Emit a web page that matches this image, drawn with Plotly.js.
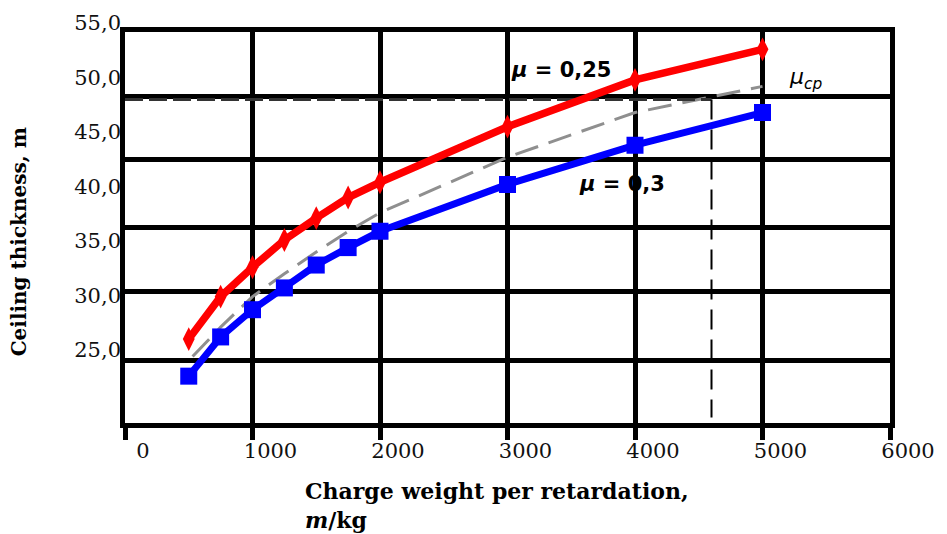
<!DOCTYPE html>
<html>
<head>
<meta charset="utf-8">
<script src="https://cdn.plot.ly/plotly-3.0.1.min.js"></script>
<style>html,body{margin:0;padding:0;background:#fff;}#chart{width:947px;height:534px;}</style>
</head>
<body>
<div id="chart"></div>
<script>
// ---- data ----
var chargeWeight = [500, 750, 1000, 1250, 1500, 1750, 2000, 3000, 4000, 5000];
var thicknessMu025 = [25.7, 29.6, 32.3, 34.8, 36.8, 38.7, 40.1, 45.2, 49.5, 52.3];
var thicknessMu03  = [22.3, 25.9, 28.4, 30.4, 32.5, 34.1, 35.6, 39.9, 43.5, 46.5];
var chargeWeightMuCp = [530, 750, 1000, 1250, 1500, 1750, 2000, 3000, 4000, 5000];
var thicknessMuCp    = [24.1, 26.8, 29.6, 31.7, 33.7, 35.6, 37.3, 42.4, 46.5, 48.9];
var refLevelX = [0, 4600];
var refLevelY = [47.7, 47.7];
var refDropX = [4600, 4600];
var refDropY = [47.7, 18.5];
var yTickVals = [25, 30, 35, 40, 45, 50, 55];
var yTickText = ['25,0', '30,0', '35,0', '40,0', '45,0', '50,0', '55,0'];
var xTickVals = [0, 1000, 2000, 3000, 4000, 5000, 6000];
var yGridVals = [23.73, 30.03, 35.95, 42.23, 47.96];

var serif = 'DejaVu Serif';
var sans = 'DejaVu Sans';

var traces = [
  // carrier for the tick-label axis (no marks)
  {x: [null], y: [null], xaxis: 'x2', yaxis: 'y2', mode: 'markers', type: 'scatter',
   marker: {opacity: 0}, hoverinfo: 'skip'},
  {x: chargeWeightMuCp, y: thicknessMuCp, mode: 'lines', type: 'scatter',
   line: {color: '#8f8f8f', width: 3, dash: '24px,11px'}},
  {x: refLevelX, y: refLevelY, mode: 'lines', type: 'scatter',
   line: {color: '#333333', width: 3, dash: '18px,6px'}},
  {x: refDropX, y: refDropY, mode: 'lines', type: 'scatter',
   line: {color: '#000000', width: 2, dash: '20px,10px'}},
  {x: chargeWeight, y: thicknessMu03, mode: 'lines+markers', type: 'scatter',
   line: {color: '#0000ff', width: 7}, marker: {symbol: 'square', size: 17, color: '#0000ff'}},
  {x: chargeWeight, y: thicknessMu025, mode: 'lines+markers', type: 'scatter',
   line: {color: '#ff0000', width: 7.5}, marker: {symbol: 'diamond-tall', size: 17, color: '#ff0000'}}
];

var layout = {
  width: 947, height: 534,
  margin: {l: 124.5, r: 56.5, t: 10, b: 110.5, pad: 0},
  paper_bgcolor: '#ffffff',
  plot_bgcolor: 'rgba(0,0,0,0)',
  showlegend: false,
  hovermode: false,
  xaxis: {
    domain: [0, 1], anchor: 'y', range: [0, 6000],
    tickvals: xTickVals,
    showgrid: true, gridcolor: '#000000', gridwidth: 5,
    showline: true, linecolor: '#000000', linewidth: 5, mirror: true,
    ticks: 'outside', ticklen: 12, tickwidth: 5, tickcolor: '#000000',
    ticklabelshift: 18, ticklabelstandoff: -7,
    tickfont: {family: serif, size: 21, color: '#111111'},
    zeroline: false
  },
  yaxis: {
    domain: [0, 0.9456], anchor: 'x', range: [18.0, 53.85],
    tickvals: yGridVals, showticklabels: false, ticks: '',
    showgrid: true, gridcolor: '#000000', gridwidth: 5,
    showline: true, linecolor: '#000000', linewidth: 5, mirror: true,
    zeroline: false
  },
  xaxis2: {domain: [0, 1], anchor: 'y2', range: [0, 6000],
    showgrid: false, showline: false, zeroline: false, showticklabels: false, ticks: ''},
  yaxis2: {
    domain: [0, 1], anchor: 'x2', range: [18.0, 55.91],
    tickvals: yTickVals, ticktext: yTickText,
    showgrid: false, zeroline: false, showline: false, ticks: '',
    ticklabelstandoff: 3, ticklabelshift: 3,
    tickfont: {family: serif, size: 21, color: '#111111'}
  },
  annotations: [
    {text: '<b>Ceiling thickness, m</b>', xref: 'paper', yref: 'paper',
     x: -0.139, y: 0.439, xanchor: 'center', yanchor: 'middle', textangle: -90,
     showarrow: false, font: {family: serif, size: 20, color: '#000000'}},
    {text: '<b>Charge weight per retardation,</b><br><b><i>m</i>/kg</b>', xref: 'paper', yref: 'paper',
     x: 0.233, y: -0.128, xanchor: 'left', yanchor: 'top', align: 'left',
     showarrow: false, font: {family: serif, size: 22, color: '#000000'}},
    {text: '<b><i>μ</i> = 0,25</b>', xref: 'x', yref: 'y', x: 3419, y: 50.41,
     xanchor: 'center', yanchor: 'middle', showarrow: false,
     font: {family: sans, size: 21, color: '#000000'}},
    {text: '<b><i>μ</i> = 0,3</b>', xref: 'x', yref: 'y', x: 3897, y: 39.97,
     xanchor: 'center', yanchor: 'middle', showarrow: false,
     font: {family: sans, size: 21, color: '#000000'}},
    {text: '<i>μ</i><sub><i>cp</i></sub>', xref: 'x', yref: 'y', x: 5338, y: 49.6,
     xanchor: 'center', yanchor: 'middle', showarrow: false,
     font: {family: sans, size: 22, color: '#000000'}}
  ]
};

Plotly.newPlot('chart', traces, layout, {staticPlot: true, displayModeBar: false});
</script>
</body>
</html>
